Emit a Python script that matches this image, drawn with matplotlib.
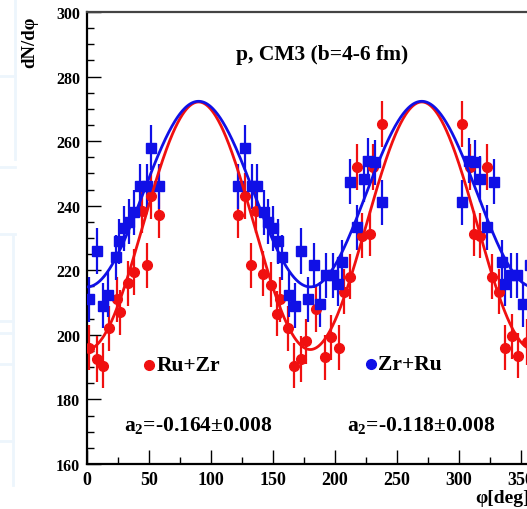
import numpy as np
import matplotlib.pyplot as plt
from matplotlib.lines import Line2D
from matplotlib.ticker import MultipleLocator

plt.rcParams['font.family'] = ['Liberation Serif', 'DejaVu Serif']
plt.rcParams['font.weight'] = 'bold'
plt.rcParams['mathtext.fontset'] = 'custom'
plt.rcParams['mathtext.rm'] = 'Liberation Serif:bold'
plt.rcParams['mathtext.it'] = 'Liberation Serif:bold'
plt.rcParams['mathtext.bf'] = 'Liberation Serif:bold'

# Ru+Zr, azimuthal distribution
phi_ruzr = [2, 8, 13, 18, 24, 27, 33, 38, 44, 48, 52, 58,
            122, 127.5, 132, 136, 142, 148, 153, 156, 162, 167, 172.5, 177,
            185, 192, 197, 203, 207, 212, 217.5, 222, 228, 231, 237.6,
            302.4, 309, 312, 317, 322.3, 327, 332, 337.5, 342.5, 347.5, 354.6]
dn_ruzr = [196, 192.5, 190.5, 202, 211, 207, 216, 219.5, 238.5, 221.6, 243, 237,
           237, 243, 221.6, 238.5, 219, 215.5, 206.5, 211, 202, 190.5, 192.5, 198,
           208, 193, 199.3, 196, 213.4, 218, 252, 230.7, 231.3, 252, 265.3,
           265.3, 252, 231.3, 230.7, 252, 218, 213.4, 196, 199.5, 193.5, 197.8]
err_ruzr = 7.0

# Zr+Ru, azimuthal distribution
phi_zrru = [2, 8, 12.5, 17, 23, 26, 30, 34, 37.5, 43, 48, 52, 58,
            122, 127.5, 133, 137, 142.5, 146, 150, 154, 157, 163, 167.5, 172.5, 178,
            183, 188, 193, 198, 202.5, 205.5, 212, 217.5, 223, 227, 232, 237.6,
            302.4, 308, 313, 317, 322.5, 328, 334.5, 337.5, 342, 347, 352, 357]
dn_zrru = [211, 226, 209, 212.5, 224, 229, 233, 235, 238, 246, 246, 258, 246,
           246, 258, 246, 246, 238, 235, 233, 229, 224, 212.5, 209, 226, 211,
           221.6, 209.5, 218.5, 218.5, 215.8, 222.5, 247.5, 233.3, 248.3, 254, 253.5, 241,
           241, 254, 253.5, 248.3, 233.3, 247.5, 222.5, 215.8, 218.5, 218.5, 209.5, 221.6]
err_zrru = 7.0

# fit parameters: dN/dphi = A * (1 + a2 * cos(2 phi))
a2_ruzr, a2_ruzr_err, norm_ruzr = -0.164, 0.008, 233.8
a2_zrru, a2_zrru_err, norm_zrru = -0.118, 0.008, 243.6

red = '#f01010'
blue = '#1010e6'

fig = plt.figure(figsize=(5.27, 5.10), dpi=100)

# faint slide frame lines in the left margin (figure pixel coords)
frame_lines = [((15, 15), (0, 160)), ((0, 15), (77, 77)), ((0, 15), (168, 168)),
               ((0, 15), (235, 235)), ((13, 13), (236, 486)), ((0, 13), (322, 322)),
               ((0, 13), (334, 334)), ((0, 13), (365, 365)), ((0, 13), (442, 442))]
for xs, ys in frame_lines:
    fig.add_artist(Line2D([x / 527 for x in xs], [1 - y / 510 for y in ys],
                          color='#edf5fc', lw=2, transform=fig.transFigure, zorder=0))

ax = fig.add_axes([0.1651, 0.0882, 0.847, 0.8863])

phi = np.linspace(0, 360, 721)

ax.errorbar(phi_ruzr, dn_ruzr, yerr=err_ruzr, fmt='o', color=red, ms=7,
            elinewidth=1.6, capsize=0, zorder=3)
ax.errorbar(phi_zrru, dn_zrru, yerr=err_zrru, fmt='s', color=blue, ms=6.5,
            elinewidth=1.6, capsize=0, zorder=3)
ax.plot(phi, norm_ruzr * (1 + a2_ruzr * np.cos(np.radians(2 * phi))), color=red, lw=2, zorder=4)
ax.plot(phi, norm_zrru * (1 + a2_zrru * np.cos(np.radians(2 * phi))), color=blue, lw=2, zorder=4)

ax.set_xlim(0, 360)
ax.set_ylim(160, 300)

ax.xaxis.set_major_locator(MultipleLocator(50))
ax.xaxis.set_minor_locator(MultipleLocator(25))
ax.yaxis.set_major_locator(MultipleLocator(20))
ax.yaxis.set_minor_locator(MultipleLocator(5))
ax.tick_params(which='both', direction='in', top=False, right=False, width=1)
ax.tick_params(which='major', length=10)
ax.tick_params(which='minor', length=5)
ax.tick_params(axis='x', pad=5, labelsize=13)
ax.tick_params(axis='y', pad=5, labelsize=11.5)
for s in ax.spines.values():
    s.set_linewidth(1.6)
ax.spines['top'].set_color('#444444')

ax.text(0.526, 0.907, 'p, CM3 (b=4-6 fm)', transform=ax.transAxes,
        ha='center', va='center', fontsize=15.5, fontweight='bold')

# legend keys
ax.plot([0.139], [0.219], 'o', color=red, ms=7, transform=ax.transAxes)
ax.text(0.155, 0.219, 'Ru+Zr', transform=ax.transAxes, ha='left', va='center',
        fontsize=15.5, fontweight='bold')
ax.plot([0.637], [0.221], 'o', color=blue, ms=7, transform=ax.transAxes)
ax.text(0.653, 0.221, 'Zr+Ru', transform=ax.transAxes, ha='left', va='center',
        fontsize=15.5, fontweight='bold')

ax.text(0.083, 0.0885, 'a$_2$=%.3f\u00b1%.3f' % (a2_ruzr, a2_ruzr_err), transform=ax.transAxes,
        ha='left', va='center', fontsize=15.5, fontweight='bold')
ax.text(0.582, 0.0885, 'a$_2$=%.3f\u00b1%.3f' % (a2_zrru, a2_zrru_err), transform=ax.transAxes,
        ha='left', va='center', fontsize=15.5, fontweight='bold')

fig.text(0.057, 0.918, 'dN/d\u03c6', rotation=90, ha='center', va='center',
         fontsize=13.5, fontweight='bold')
fig.text(0.901, 0.022, '\u03c6[deg]', ha='left', va='center',
         fontsize=14, fontweight='bold')

fig.savefig('out.png', dpi=100)
